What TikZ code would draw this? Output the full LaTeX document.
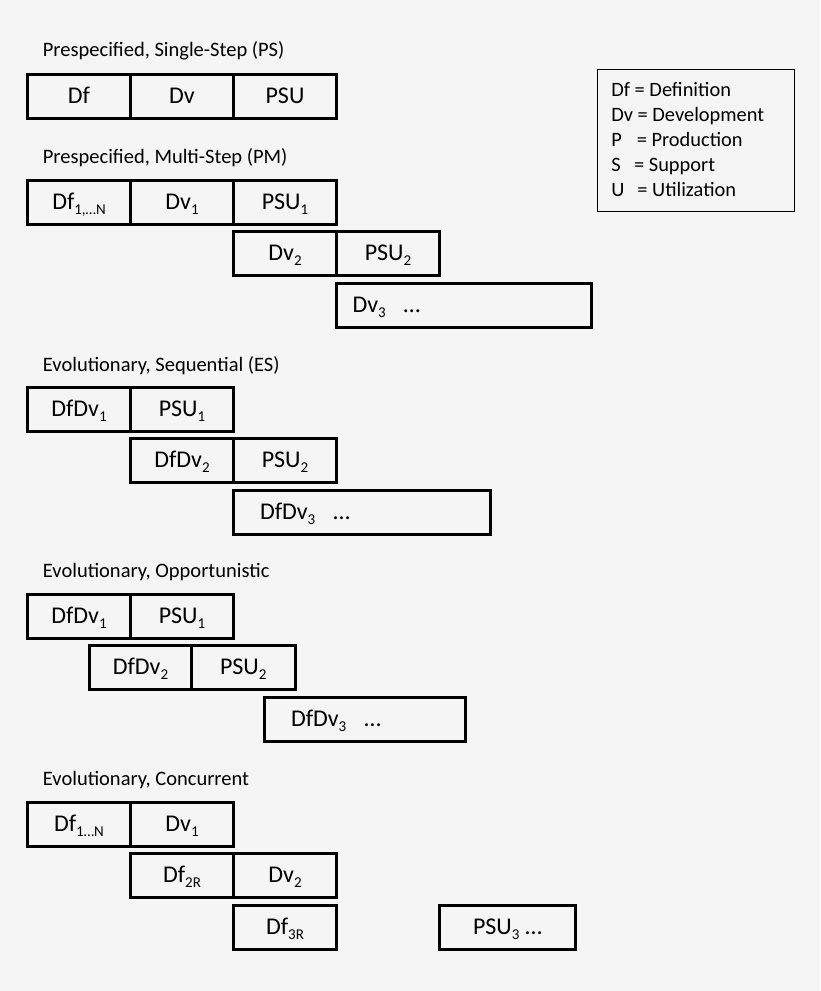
\documentclass[tikz,border=0pt]{standalone}
\usepackage{fontspec}
\setmainfont{Carlito}
\definecolor{bg}{RGB}{245,245,245}
\newcommand\bxf{\fontsize{24}{28}\selectfont}
\newcommand\ttf{\fontsize{20.5}{24}\selectfont}
\newcommand\lgf{\fontsize{20.4}{24}\selectfont}
\newcommand\sbx[1]{\raisebox{-5pt}{\fontsize{15}{15}\selectfont #1}}
\begin{document}
\begin{tikzpicture}[x=1pt,y=-1pt,
  cell/.style={draw, line width=3pt, minimum height=44pt, inner sep=0pt, outer sep=0pt,
    text height=17pt, text depth=2.6pt, font=\bxf, anchor=north west, minimum width=103pt},
  longcell/.style={cell, align=left, inner xsep=#1},
  ttl/.style={anchor=base west, inner sep=0pt, font=\ttf},
  lgd/.style={anchor=base west, inner sep=0pt, font=\lgf}]
\fill[bg] (0,0) rectangle (820,991);
\useasboundingbox (0,0) rectangle (820,991);

% Prespecified, Single-Step
\node[ttl] (t1) at (42.7,56.7) {Prespecified, Single-Step (PS)};
\node[cell] (ps1) at (27.5,74) {Df};
\node[cell] (ps2) at (130.5,74) {Dv};
\node[cell] (ps3) at (233.5,74) {PSU};

% Prespecified, Multi-Step
\node[ttl] (t2) at (42.7,163.3) {Prespecified, Multi-Step (PM)};
\node[cell] (pm11) at (27.5,180) {Df\sbx{1,…N}};
\node[cell] (pm12) at (130.5,180) {Dv\sbx{1}};
\node[cell] (pm13) at (233.5,180) {PSU\sbx{1}};
\node[cell] (pm21) at (233.5,231) {Dv\sbx{2}};
\node[cell] (pm22) at (336.5,231) {PSU\sbx{2}};
\node[longcell=16pt, minimum width=254.5pt, text width=222.5pt] (pm3) at (336.5,283) {Dv\sbx{3}\hspace{18pt}…};

% Evolutionary, Sequential
\node[ttl] (t3) at (42.7,371.7) {Evolutionary, Sequential (ES)};
\node[cell] (es11) at (27.5,387) {DfDv\sbx{1}};
\node[cell] (es12) at (130.5,387) {PSU\sbx{1}};
\node[cell] (es21) at (130.5,438) {DfDv\sbx{2}};
\node[cell] (es22) at (233.5,438) {PSU\sbx{2}};
\node[longcell=26.5pt, minimum width=257pt, text width=204pt] (es3) at (233.5,490) {DfDv\sbx{3}\hspace{18pt}…};

% Evolutionary, Opportunistic
\node[ttl] (t4) at (42.7,577.7) {Evolutionary, Opportunistic};
\node[cell] (eo11) at (27.5,594) {DfDv\sbx{1}};
\node[cell] (eo12) at (130.5,594) {PSU\sbx{1}};
\node[cell, minimum width=102pt] (eo21) at (89.5,645.5) {DfDv\sbx{2}};
\node[cell, minimum width=103.5pt] (eo22) at (191.5,645.5) {PSU\sbx{2}};
\node[longcell=26.5pt, minimum width=200.5pt, text width=147.5pt] (eo3) at (264.5,697) {DfDv\sbx{3}\hspace{18pt}…};

% Evolutionary, Concurrent
\node[ttl] (t5) at (42.7,785.5) {Evolutionary, Concurrent};
\node[cell] (ec11) at (27.5,802) {Df\sbx{1…N}};
\node[cell] (ec12) at (130.5,802) {Dv\sbx{1}};
\node[cell] (ec21) at (130.5,853.5) {Df\sbx{2R}};
\node[cell] (ec22) at (233.5,853.5) {Dv\sbx{2}};
\node[cell] (ec31) at (233.5,905) {Df\sbx{3R}};
\node[cell, minimum width=136pt] (ec32) at (439.5,905) {PSU\sbx{3}\hspace{6pt}…};

% Legend
\node[draw, line width=1.5pt, minimum width=197pt, minimum height=142pt, inner sep=0pt,
  outer sep=0pt, anchor=north west] (legend) at (597.5,69.5) {};
\node[lgd] (l1) at (611.1,96.7) {Df = Definition};
\node[lgd] (l2) at (611.1,121.7) {Dv = Development};
\node[lgd] (l3) at (611.1,146.7) {P\hspace{15pt}= Production};
\node[lgd] (l4) at (611.1,171.7) {S\hspace{13.5pt}= Support};
\node[lgd] (l5) at (611.1,196.7) {U\hspace{13pt}= Utilization};
\end{tikzpicture}
\end{document}
